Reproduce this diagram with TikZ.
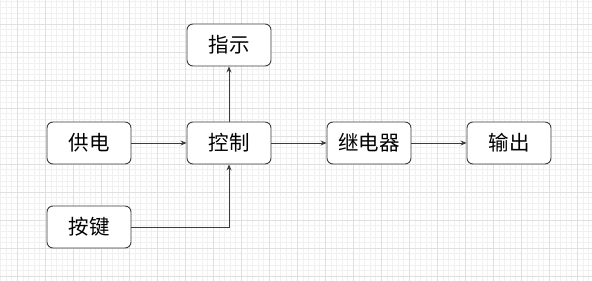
\documentclass[tikz,border=0pt]{standalone}
\usepackage{fontspec}
\newfontfamily\cjk{Noto Sans CJK SC}
\usetikzlibrary{arrows.meta}
\definecolor{minorgrid}{HTML}{F1F1F1}
\definecolor{majorgrid}{HTML}{E0E0E0}
\definecolor{boxline}{HTML}{3C3C3C}
\tikzset{
  blk/.style={draw=boxline, line width=0.9pt, rounded corners=6pt, fill=white,
    minimum width=84pt, minimum height=42pt, inner sep=0pt,
    font=\cjk\fontsize{20.5pt}{20.5pt}\selectfont, text=black},
  conn/.style={draw=boxline, line width=0.8pt, -{Stealth[length=6pt,width=5pt]}}
}
\begin{document}
\begin{tikzpicture}[x=1pt,y=-1pt]
\useasboundingbox (0,0) rectangle (592,281);
\fill[white] (0,0) rectangle (592,281);
% minor grid
\foreach \i in {-4,...,106} {
  \draw[minorgrid, line width=0.5pt] ({17.3+5.6*\i},0) -- ({17.3+5.6*\i},281);
}
\foreach \j in {-5,...,46} {
  \draw[minorgrid, line width=0.5pt] (0,{24+5.6*\j}) -- (592,{24+5.6*\j});
}
% major grid
\foreach \i in {-1,...,21} {
  \draw[majorgrid, line width=0.7pt] ({17.3+28*\i},0) -- ({17.3+28*\i},281);
}
\foreach \j in {-1,...,10} {
  \draw[majorgrid, line width=0.7pt] (0,{24+28*\j}) -- (592,{24+28*\j});
}
% nodes
\node[blk] (zhishi) at (229,45) {指示};
\node[blk] (gongdian) at (89,143) {供电};
\node[blk] (kongzhi) at (229,143) {控制};
\node[blk] (jidianqi) at (369,143) {继电器};
\node[blk] (shuchu) at (509,143) {输出};
\node[blk] (anjian) at (89,227) {按键};
% connectors
\draw[conn] (gongdian) -- (kongzhi);
\draw[conn] (kongzhi) -- (jidianqi);
\draw[conn] (jidianqi) -- (shuchu);
\draw[conn] (kongzhi) -- (zhishi);
\draw[conn] (anjian.east) -| (kongzhi.south);
\end{tikzpicture}
\end{document}
